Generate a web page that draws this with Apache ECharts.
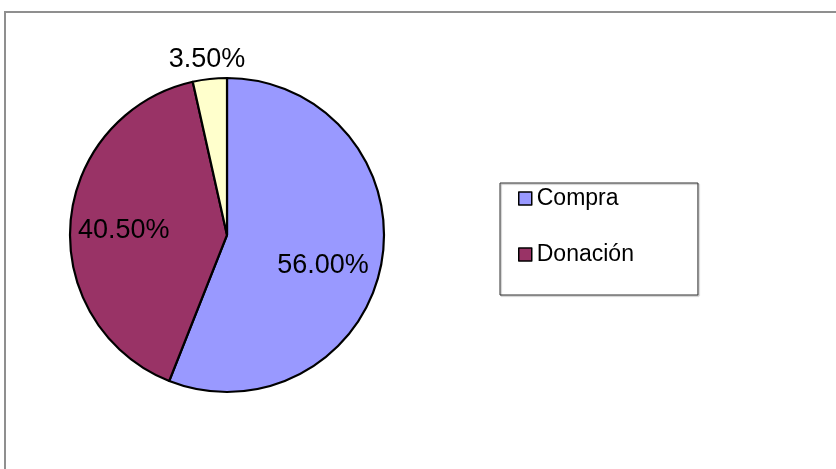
<!DOCTYPE html>
<html>
<head>
<meta charset="utf-8">
<script src="https://cdn.jsdelivr.net/npm/echarts@6/dist/echarts.min.js"></script>
<style>
  html, body { margin: 0; padding: 0; background: #fff; }
  #chart { width: 836px; height: 469px; }
</style>
</head>
<body>
<div id="chart"></div>
<script>
// Slice names, shares (%) and fill colours
const categories = ['Compra', 'Donación', 'Otros'];
const shares = [56.0, 40.5, 3.5];
const colors = ['#9999FF', '#993366', '#FFFFCC'];
// Only the first two categories are listed in the legend
const legendItems = ['Compra', 'Donación'];
// Nudges for the percentage labels, per slice
const labelOffsets = [[16, 15], [-22, 2], [-11, -94]];

const chart = echarts.init(document.getElementById('chart'));

const data = categories.map((name, i) => ({
  name: name,
  value: shares[i],
  itemStyle: { color: colors[i] },
  label: { offset: labelOffsets[i] }
}));

chart.setOption({
  animation: false,
  backgroundColor: '#fff',
  graphic: [{
    type: 'rect',
    shape: { x: 5, y: 12, width: 900, height: 600 },
    style: { fill: 'none', stroke: '#8f8f8f', lineWidth: 2 },
    silent: true,
    z: -10
  }],
  legend: {
    data: legendItems,
    orient: 'vertical',
    left: 500,
    top: 183,
    padding: [4, 64, 29, 18],
    itemWidth: 13,
    itemHeight: 13,
    itemGap: 33,
    borderColor: '#333',
    borderWidth: 1,
    shadowColor: 'rgba(0,0,0,0.35)',
    shadowOffsetX: 1,
    shadowOffsetY: 1,
    shadowBlur: 1,
    icon: 'rect',
    itemStyle: { borderColor: '#000', borderWidth: 1.5 },
    textStyle: {
      fontFamily: 'Liberation Sans, Arial, sans-serif',
      fontSize: 23,
      color: '#000',
      padding: [0, 0, 0, 0]
    },
    selectedMode: false
  },
  series: [{
    type: 'pie',
    center: [227, 235],
    radius: 157,
    startAngle: 90,
    clockwise: true,
    avoidLabelOverlap: false,
    silent: true,
    itemStyle: { borderColor: '#000', borderWidth: 2.2 },
    label: {
      show: true,
      position: 'inside',
      formatter: p => p.value.toFixed(2) + '%',
      fontFamily: 'Liberation Sans, Arial, sans-serif',
      fontSize: 27,
      color: '#000'
    },
    labelLine: { show: false },
    data: data
  }]
});
</script>
</body>
</html>
